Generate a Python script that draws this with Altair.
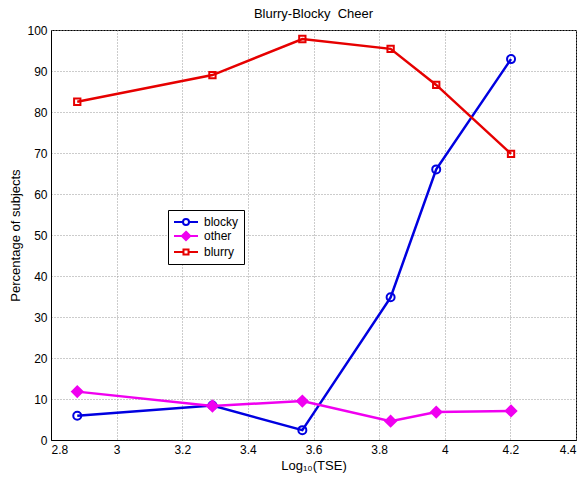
import altair as alt
import pandas as pd

# ---- data ----
tse = [2.88, 3.292, 3.566, 3.835, 3.974, 4.202]
blocky = [5.9, 8.4, 2.4, 34.8, 66.0, 92.9]
other = [11.8, 8.3, 9.5, 4.6, 6.8, 7.1]
blurry = [82.5, 89.0, 97.8, 95.4, 86.6, 69.8]

series_names = ["blocky", "other", "blurry"]
x_ticks = [2.8, 3.0, 3.2, 3.4, 3.6, 3.8, 4.0, 4.2, 4.4]
y_ticks = [0, 10, 20, 30, 40, 50, 60, 70, 80, 90, 100]

# ---- styles ----
series_colors = ["#0000e0", "#f000f0", "#e60000"]
marker_shapes = ["circle", "diamond", "square"]
marker_sizes = [64, 110, 40]
marker_fills = ["rgba(0,0,0,0)", "#f000f0", "rgba(0,0,0,0)"]
legend_shapes = [
    "M-2,0H-0.5M0.5,0H2M0.5,0A0.5,0.5,0,1,1,-0.5,0A0.5,0.5,0,1,1,0.5,0Z",
    "M-2,0H2M0,-0.7L0.7,0L0,0.7L-0.7,0Z",
    "M-2,0H-0.42M0.42,0H2M-0.42,-0.42H0.42V0.42H-0.42Z",
]
FONT = "Liberation Sans"

rows = []
for name, vals in zip(series_names, [blocky, other, blurry]):
    for xv, yv in zip(tse, vals):
        rows.append({"tse": xv, "pct": yv, "series": name})
df = pd.DataFrame(rows)

x_enc = alt.X(
    "tse:Q",
    scale=alt.Scale(domain=[2.8, 4.4], nice=False, zero=False),
    axis=alt.Axis(values=x_ticks, format="~g", title="Log₁₀(TSE)"),
)
y_enc = alt.Y(
    "pct:Q",
    scale=alt.Scale(domain=[0, 100], nice=False),
    axis=alt.Axis(values=y_ticks, title="Percentage of subjects"),
)

base = alt.Chart(df)

lines = base.mark_line(strokeWidth=2.5).encode(
    x=x_enc,
    y=y_enc,
    color=alt.Color("series:N", scale=alt.Scale(domain=series_names, range=series_colors), legend=None),
    detail="series:N",
)

points = base.mark_point(strokeWidth=2, opacity=1, filled=False).encode(
    x=x_enc,
    y=y_enc,
    stroke=alt.Stroke("series:N", scale=alt.Scale(domain=series_names, range=series_colors), legend=None),
    fill=alt.Fill("series:N", scale=alt.Scale(domain=series_names, range=marker_fills), legend=None),
    shape=alt.Shape("series:N", scale=alt.Scale(domain=series_names, range=marker_shapes), legend=None),
    size=alt.Size("series:N", scale=alt.Scale(type="ordinal", domain=series_names, range=marker_sizes), legend=None),
)

legend_spec = alt.Legend(
    title=None,
    orient="none",
    legendX=117,
    legendY=180,
    strokeColor="black",
    fillColor="white",
    padding=5,
    rowPadding=-6,
    symbolSize=144,
    symbolOffset=6,
    symbolStrokeWidth=2,
    symbolOpacity=1,
    labelOffset=11,
    labelFont=FONT,
    labelFontSize=12,
    labelColor="black",
    cornerRadius=0,
)

legend_layer = base.mark_point(opacity=0, size=10).encode(
    x=x_enc,
    y=y_enc,
    stroke=alt.Stroke("series:N", scale=alt.Scale(domain=series_names, range=series_colors), legend=legend_spec),
    fill=alt.Fill("series:N", scale=alt.Scale(domain=series_names, range=marker_fills), legend=legend_spec),
    shape=alt.Shape("series:N", scale=alt.Scale(domain=series_names, range=legend_shapes), legend=legend_spec),
)

chart = (
    alt.layer(lines, points, legend_layer)
    .resolve_scale(shape="independent", stroke="independent", fill="independent", size="independent")
    .properties(
        width=525,
        height=410,
        title=alt.TitleParams("Blurry-Blocky\u00a0 Cheer", font=FONT, fontSize=13, fontWeight="normal", color="black", offset=3),
        autosize=alt.AutoSizeParams(type="none"),
        padding={"left": 51, "top": 30, "right": 8, "bottom": 39},
        background="white",
    )
    .configure_view(stroke="black", strokeWidth=1)
    .configure_axis(
        labelFont=FONT,
        labelFontSize=12,
        labelColor="black",
        titleFont=FONT,
        titleFontSize=13,
        titleFontWeight="normal",
        titleColor="black",
        grid=True,
        gridColor="#999999",
        gridDash=[1, 2],
        gridOpacity=1,
        domain=True,
        domainColor="black",
        ticks=False,
        labelPadding=4,
    )
    .configure_axisX(titlePadding=4)
    .configure_axisY(titlePadding=4)
)

chart.save("out.html", embed_options={"renderer": "svg", "actions": False})
